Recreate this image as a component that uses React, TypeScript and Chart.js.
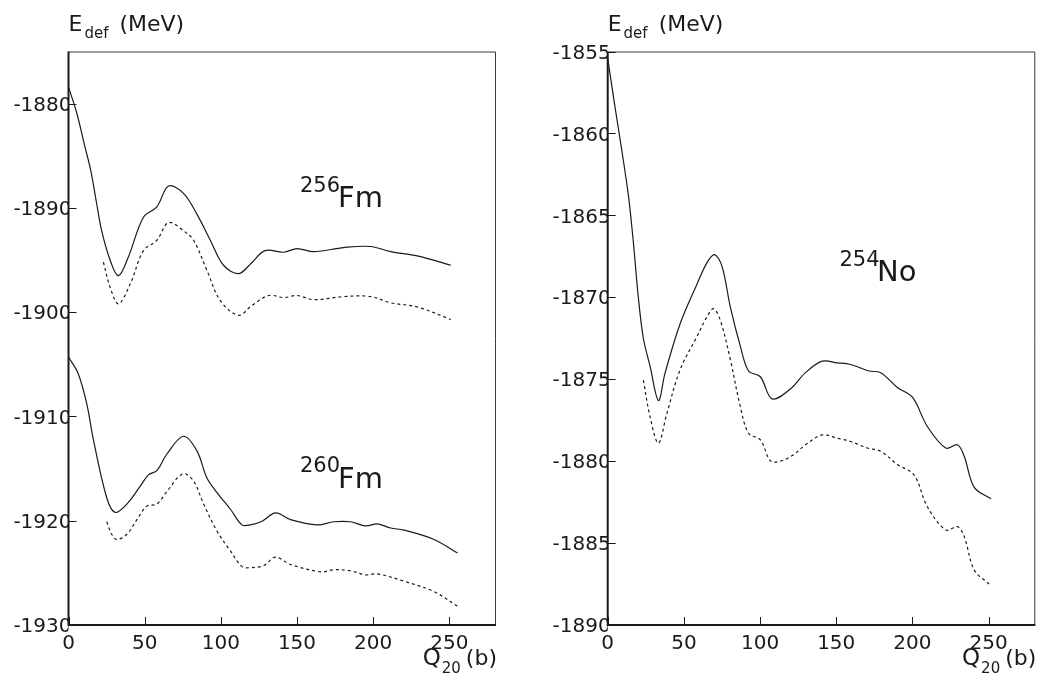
import React, { useEffect, useRef } from "react";
import { Chart, registerables } from "chart.js";

Chart.register(...registerables);

const FONT = "'DejaVu Sans', 'Liberation Sans', sans-serif";
const INK = "#1a1a1a";

// ---------- 256Fm (left panel, upper pair) ----------
const fm256SolidQ = [0, 5.4, 10.9, 14.6, 18.5, 21.8, 27.3, 32.8, 39.3, 49.2, 58, 65.7, 75.5, 84.3, 93.1, 101.8, 111.7, 120, 129, 141.3, 150.1, 161, 180.8, 198.4, 211.5, 229, 251];
const fm256SolidE = [-1878.4, -1880.9, -1884.2, -1886.4, -1889.6, -1892.2, -1895.0, -1896.5, -1894.7, -1890.9, -1889.9, -1887.9, -1888.6, -1890.6, -1893.1, -1895.5, -1896.3, -1895.3, -1894.1, -1894.25, -1893.9, -1894.2, -1893.8, -1893.7, -1894.2, -1894.6, -1895.5];
const fm256DashQ = [22.9, 27.3, 32.8, 40.5, 49.2, 58, 65.7, 75.5, 82.1, 90.9, 99.7, 111.7, 120, 131.4, 141.3, 150.1, 161, 180.8, 198.4, 211.5, 229, 251];
const fm256DashE = [-1895.2, -1897.6, -1899.2, -1897.3, -1894.1, -1893.1, -1891.4, -1892.2, -1893.1, -1896.0, -1898.9, -1900.3, -1899.4, -1898.4, -1898.6, -1898.4, -1898.8, -1898.5, -1898.5, -1899.1, -1899.5, -1900.7];

// ---------- 260Fm (left panel, lower pair) ----------
const fm260SolidQ = [0, 6.4, 12, 16.3, 25.1, 30.6, 38.3, 47, 52.5, 58, 64.6, 75.5, 84.3, 90.9, 97.5, 106.3, 113.9, 119.4, 127.1, 135.9, 145.8, 163.3, 174.2, 185.2, 195.1, 202.8, 211.5, 220.3, 240, 255.4];
const fm260SolidE = [-1904.3, -1905.9, -1908.8, -1912.2, -1917.8, -1919.2, -1918.4, -1916.7, -1915.6, -1915.2, -1913.6, -1911.9, -1913.3, -1915.9, -1917.3, -1918.9, -1920.4, -1920.4, -1920.05, -1919.25, -1919.9, -1920.4, -1920.1, -1920.1, -1920.5, -1920.3, -1920.7, -1920.9, -1921.8, -1923.1];
const fm260DashQ = [25.1, 28.4, 31.7, 38.3, 44.9, 51.4, 58, 64.6, 75.1, 82.1, 88.7, 97.5, 106.3, 113.9, 119.4, 128.2, 135.9, 145.8, 165.5, 174.2, 185.2, 195.1, 202.8, 220.3, 240, 255.4];
const fm260DashE = [-1920.1, -1921.3, -1921.8, -1921.3, -1919.9, -1918.6, -1918.4, -1917.2, -1915.5, -1916.2, -1918.4, -1921.0, -1922.9, -1924.4, -1924.5, -1924.3, -1923.5, -1924.2, -1924.9, -1924.7, -1924.8, -1925.2, -1925.1, -1925.8, -1926.8, -1928.2];

// ---------- 254No (right panel) ----------
const no254SolidQ = [0, 4.8, 9.2, 13.6, 16.8, 20.1, 23.4, 27.8, 33.3, 37.7, 47.6, 58.6, 65.1, 70.1, 75, 80.5, 87.1, 92.5, 100.2, 107.9, 119.9, 129.8, 140.8, 150.7, 159.4, 171.5, 179.2, 190.1, 200, 209.9, 221.9, 229.6, 234, 240.6, 251.6];
const no254SolidE = [-1855.4, -1858.4, -1861.0, -1863.8, -1866.6, -1870.0, -1872.5, -1874.2, -1876.3, -1874.6, -1871.6, -1869.2, -1867.9, -1867.4, -1868.1, -1870.6, -1873.0, -1874.5, -1874.85, -1876.2, -1875.6, -1874.6, -1873.9, -1874.0, -1874.1, -1874.5, -1874.6, -1875.5, -1876.1, -1877.9, -1879.2, -1879.0, -1879.7, -1881.6, -1882.3];
const no254DashQ = [23.4, 27.8, 33.3, 38.8, 47.6, 58.6, 65.1, 69.5, 73.9, 80.5, 87.1, 92.5, 100.2, 107, 113.4, 122.1, 129.8, 140.8, 150.7, 159.4, 170.4, 179.2, 190.1, 201.1, 209.9, 221.9, 229.6, 234, 240.6, 250.4];
const no254DashE = [-1875.05, -1877.3, -1878.9, -1877.1, -1874.4, -1872.4, -1871.2, -1870.7, -1871.4, -1873.8, -1876.7, -1878.3, -1878.7, -1880.0, -1880.0, -1879.6, -1879.0, -1878.4, -1878.6, -1878.8, -1879.2, -1879.4, -1880.2, -1880.85, -1882.8, -1884.2, -1884.0, -1884.6, -1886.65, -1887.5];

// ---------- axes ----------
const xMin = 0;
const xMax = 280;
const xStep = 50;
const leftYMin = -1930;
const leftYMax = -1875;
const leftYStep = 10;
const rightYMin = -1890;
const rightYMax = -1855;
const rightYStep = 5;

type Series = { q: number[]; e: number[]; dashed: boolean };
type Label = { mass: string; sym: string; x: number; massBase: number; symX: number; symBase: number };

function pts(q: number[], e: number[]) {
  return q.map((v, i) => ({ x: v, y: e[i] }));
}

function makeOverlay(labels: Label[]) {
  return {
    id: "overlay",
    afterDraw(chart: any) {
      const ctx = chart.ctx as CanvasRenderingContext2D;
      const a = chart.chartArea;
      const xs = chart.scales.x;
      const ys = chart.scales.y;
      ctx.save();
      // frame: top/right thin
      ctx.strokeStyle = "#3a3a3a";
      ctx.lineWidth = 1;
      ctx.beginPath();
      ctx.moveTo(a.left, a.top + 0.5);
      ctx.lineTo(a.right + 0.5, a.top + 0.5);
      ctx.lineTo(a.right + 0.5, a.bottom);
      ctx.stroke();
      // left & bottom axes thicker
      ctx.strokeStyle = INK;
      ctx.lineWidth = 2;
      ctx.beginPath();
      ctx.moveTo(a.left, a.top);
      ctx.lineTo(a.left, a.bottom);
      ctx.lineTo(a.right + 1, a.bottom);
      ctx.stroke();
      // inward ticks
      ctx.lineWidth = 1;
      ctx.beginPath();
      ys.ticks.forEach((t: any) => {
        const y = Math.round(ys.getPixelForValue(t.value)) + 0.5;
        ctx.moveTo(a.left, y);
        ctx.lineTo(a.left + 8, y);
      });
      xs.ticks.forEach((t: any) => {
        const x = Math.round(xs.getPixelForValue(t.value)) + 0.5;
        ctx.moveTo(x, a.bottom);
        ctx.lineTo(x, a.bottom - 8);
      });
      ctx.stroke();

      ctx.fillStyle = INK;
      ctx.textBaseline = "alphabetic";
      ctx.textAlign = "left";
      // y title: E_def (MeV)
      ctx.font = `22px ${FONT}`;
      let tx = a.left;
      ctx.fillText("E", tx, 31);
      tx += ctx.measureText("E").width + 2;
      ctx.font = `15px ${FONT}`;
      ctx.fillText("def", tx, 38);
      tx += ctx.measureText("def").width + 11;
      ctx.font = `22px ${FONT}`;
      ctx.fillText("(MeV)", tx, 31);

      // x title: Q_20 (b)
      ctx.font = `22px ${FONT}`;
      const wb = ctx.measureText("(b)").width;
      ctx.font = `23px ${FONT}`;
      const wQ = ctx.measureText("Q").width;
      ctx.font = `15px ${FONT}`;
      const w20 = ctx.measureText("20").width;
      let ex = a.right + 2 - wb;
      ctx.font = `22px ${FONT}`;
      ctx.fillText("(b)", ex, 665);
      ex -= 5 + w20;
      ctx.font = `15px ${FONT}`;
      ctx.fillText("20", ex, 673);
      ex -= wQ + 1;
      ctx.font = `23px ${FONT}`;
      ctx.fillText("Q", ex, 665);

      // nucleus labels
      labels.forEach((l) => {
        ctx.font = `21px ${FONT}`;
        ctx.fillText(l.mass, l.x, l.massBase);
        ctx.font = `29px ${FONT}`;
        ctx.fillText(l.sym, l.symX, l.symBase);
      });
      ctx.restore();
    },
  };
}

function makeConfig(
  series: Series[],
  yMin: number,
  yMax: number,
  yStep: number,
  axisWidth: number,
  rightPad: number,
  labels: Label[]
): any {
  const tickFont = { family: FONT, size: 20 };
  return {
    type: "line",
    data: {
      datasets: series.map((s) => ({
        data: pts(s.q, s.e),
        borderColor: INK,
        borderWidth: 1.2,
        borderDash: s.dashed ? [3, 3] : [],
        pointRadius: 0,
        fill: false,
        tension: 0.35,
      })),
    },
    options: {
      responsive: false,
      animation: false,
      devicePixelRatio: 1,
      parsing: false,
      layout: { padding: { top: 51.5, right: rightPad, left: 0, bottom: 0 } },
      plugins: { legend: { display: false }, tooltip: { enabled: false }, title: { display: false } },
      scales: {
        x: {
          type: "linear",
          min: xMin,
          max: xMax,
          ticks: {
            stepSize: xStep,
            includeBounds: false,
            padding: 7,
            color: INK,
            font: tickFont,
            maxRotation: 0,
            autoSkip: false,
            callback: (v: number) => String(v),
          },
          grid: { display: false, drawTicks: false },
          border: { display: false },
          afterFit: (s: any) => {
            s.height = 55;
          },
        },
        y: {
          type: "linear",
          min: yMin,
          max: yMax,
          ticks: {
            stepSize: yStep,
            includeBounds: false,
            padding: -3,
            labelOffset: 2,
            color: INK,
            font: tickFont,
            autoSkip: false,
            callback: (v: number) => String(v),
          },
          grid: { display: false, drawTicks: false },
          border: { display: false },
          afterFit: (s: any) => {
            s.width = axisWidth;
          },
        },
      },
    },
    plugins: [makeOverlay(labels)],
  };
}

function Panel({ config, left, width }: { config: any; left: number; width: number }) {
  const ref = useRef<HTMLCanvasElement>(null);
  useEffect(() => {
    const chart = new Chart(ref.current as HTMLCanvasElement, config);
    return () => chart.destroy();
  }, []);
  return (
    <canvas
      ref={ref}
      width={width}
      height={680}
      style={{ position: "absolute", left, top: 0, width, height: 680, display: "block" }}
    />
  );
}

export default function App() {
  const leftCfg = makeConfig(
    [
      { q: fm256SolidQ, e: fm256SolidE, dashed: false },
      { q: fm256DashQ, e: fm256DashE, dashed: true },
      { q: fm260SolidQ, e: fm260SolidE, dashed: false },
      { q: fm260DashQ, e: fm260DashE, dashed: true },
    ],
    leftYMin,
    leftYMax,
    leftYStep,
    68.5,
    25,
    [
      { mass: "256", sym: "Fm", x: 300, massBase: 192, symX: 338, symBase: 207 },
      { mass: "260", sym: "Fm", x: 300, massBase: 472, symX: 338, symBase: 488 },
    ]
  );
  const rightCfg = makeConfig(
    [
      { q: no254SolidQ, e: no254SolidE, dashed: false },
      { q: no254DashQ, e: no254DashE, dashed: true },
    ],
    rightYMin,
    rightYMax,
    rightYStep,
    87.7,
    6.7,
    [{ mass: "254", sym: "No", x: 319.5, massBase: 265.5, symX: 357, symBase: 281 }]
  );
  return (
    <div style={{ position: "absolute", left: 0, top: 0, width: 1041, height: 680, background: "#fff" }}>
      <Panel config={leftCfg} left={0} width={520} />
      <Panel config={rightCfg} left={520} width={521} />
    </div>
  );
}
